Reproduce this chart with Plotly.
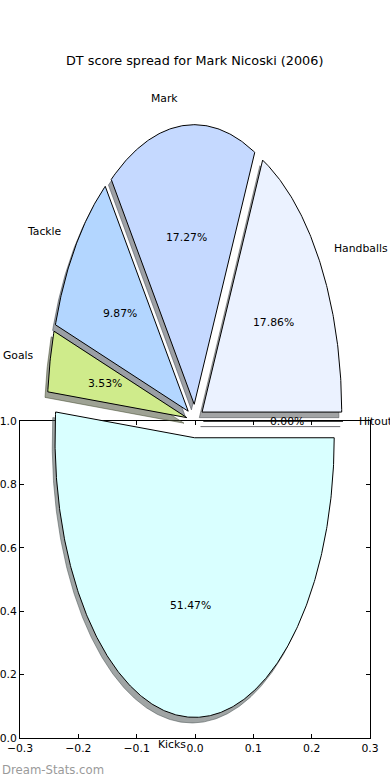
import numpy as np
import plotly.graph_objects as go

# ---- data ----
labels = ["Hitout", "Handballs", "Mark", "Tackle", "Goals", "Kicks"]
shares = [0.00, 17.86, 17.27, 9.87, 3.53, 51.47]
slice_colors = ["#E6E6FF", "#EBF2FF", "#C5D9FF", "#B3D6FF", "#CFEB8B", "#D9FFFF"]
explode = [0.06, 0.06, 0.06, 0.06, 0.06, 0.06]
x_ticks = [-0.3, -0.2, -0.1, 0.0, 0.1, 0.2, 0.3]
y_ticks = [0.0, 0.2, 0.4, 0.6, 0.8, 1.0]
title_text = "DT score spread for Mark Nicoski (2006)"
watermark = "Dream-Stats.com"

# ---- layout constants (pixels) ----
W, H = 390, 780
RX, RY = 139.6, 279.6      # pie radii on screen
CX, CY = 195.0, 421.0      # pie centre on screen (from top-left)
AX_L, AX_R, AX_T, AX_B = 20, 370, 421, 738
FONT = "DejaVu Sans"

def hex_rgb(h):
    h = h.lstrip("#")
    return tuple(int(h[i:i + 2], 16) for i in (0, 2, 4))

fig = go.Figure()

# invisible trace to establish the visible axes
fig.add_trace(go.Scatter(x=[x_ticks[0], x_ticks[-1]], y=[y_ticks[0], y_ticks[-1]],
                         mode="markers", marker=dict(opacity=0), hoverinfo="skip",
                         showlegend=False, xaxis="x", yaxis="y"))

total = sum(shares)
bounds = np.concatenate([[0.0], np.cumsum(shares) / total * 2 * np.pi])

wedges = []
for i, lab in enumerate(labels):
    t1, t2 = bounds[i], bounds[i + 1]
    mid = 0.5 * (t1 + t2)
    ex, ey = explode[i] * np.cos(mid), explode[i] * np.sin(mid)
    n = max(2, int(abs(t2 - t1) / np.deg2rad(0.5)) + 2)
    th = np.linspace(t1, t2, n)
    px = np.concatenate([[ex], ex + np.cos(th), [ex]])
    py = np.concatenate([[ey], ey + np.sin(th), [ey]])
    wedges.append((px, py, mid, ex, ey))

# shadows first
for i, (px, py, mid, ex, ey) in enumerate(wedges):
    r, g, b = hex_rgb(slice_colors[i])
    sc = f"rgba({0.3*r:.0f},{0.3*g:.0f},{0.3*b:.0f},0.5)"
    fig.add_trace(go.Scatter(x=px - 0.02, y=py - 0.02, mode="lines", fill="toself",
                             fillcolor=sc, line=dict(color=sc, width=1),
                             hoverinfo="skip", showlegend=False, xaxis="x2", yaxis="y2"))
# wedges
for i, (px, py, mid, ex, ey) in enumerate(wedges):
    fig.add_trace(go.Scatter(x=px, y=py, mode="lines", fill="toself",
                             fillcolor=slice_colors[i], line=dict(color="black", width=1),
                             hoverinfo="skip", showlegend=False, xaxis="x2", yaxis="y2"))

annotations = []
for i, (px, py, mid, ex, ey) in enumerate(wedges):
    lx, ly = ex + 1.1 * np.cos(mid), ey + 1.1 * np.sin(mid)
    annotations.append(dict(x=lx, y=ly, xref="x2", yref="y2", text=labels[i], showarrow=False,
                            xanchor="left" if np.cos(mid) > 0 else "right", yanchor="middle",
                            font=dict(family=FONT, size=10.8, color="black")))
    tx, ty = ex + 0.6 * np.cos(mid), ey + 0.6 * np.sin(mid)
    annotations.append(dict(x=tx, y=ty, xref="x2", yref="y2", text=f"{shares[i]:.2f}%",
                            showarrow=False, xanchor="center", yanchor="middle",
                            font=dict(family=FONT, size=10.8, color="black")))

annotations.append(dict(x=194.5 / W, y=1 - 61 / H, xref="paper", yref="paper", text=title_text,
                        showarrow=False, xanchor="center", yanchor="middle",
                        font=dict(family=FONT, size=12.8, color="black")))
annotations.append(dict(x=0, y=1 - 770 / H, xref="paper", yref="paper", text=watermark,
                        showarrow=False, xanchor="left", yanchor="middle",
                        font=dict(family=FONT, size=11.7, color="#9a9a9a")))

axis_common = dict(showline=True, linecolor="black", linewidth=1, mirror="ticks",
                   ticks="inside", ticklen=4, tickcolor="black", showgrid=False,
                   zeroline=False, tickformat=".1f", automargin=False,
                   tickfont=dict(family=FONT, size=10.8, color="black"))

fig.update_layout(
    width=W, height=H, margin=dict(l=0, r=0, t=0, b=0, pad=0, autoexpand=False),
    paper_bgcolor="white", plot_bgcolor="rgba(0,0,0,0)",
    showlegend=False, annotations=annotations,
    xaxis=dict(domain=[AX_L / W, AX_R / W], range=[x_ticks[0], x_ticks[-1]],
               tickvals=x_ticks, anchor="y", **axis_common),
    yaxis=dict(domain=[1 - AX_B / H, 1 - AX_T / H], range=[y_ticks[0], y_ticks[-1]],
               tickvals=y_ticks, anchor="x", **axis_common),
    xaxis2=dict(domain=[0, 1], range=[-CX / RX, (W - CX) / RX], visible=False,
                anchor="y2", fixedrange=True, automargin=False),
    yaxis2=dict(domain=[0, 1], range=[-(H - CY) / RY, CY / RY], visible=False,
                anchor="x2", fixedrange=True, automargin=False),
)

fig.write_html("out.html", config={"displayModeBar": False},
               post_script="document.body.style.margin='0';"
                           "document.body.style.overflow='hidden';")
